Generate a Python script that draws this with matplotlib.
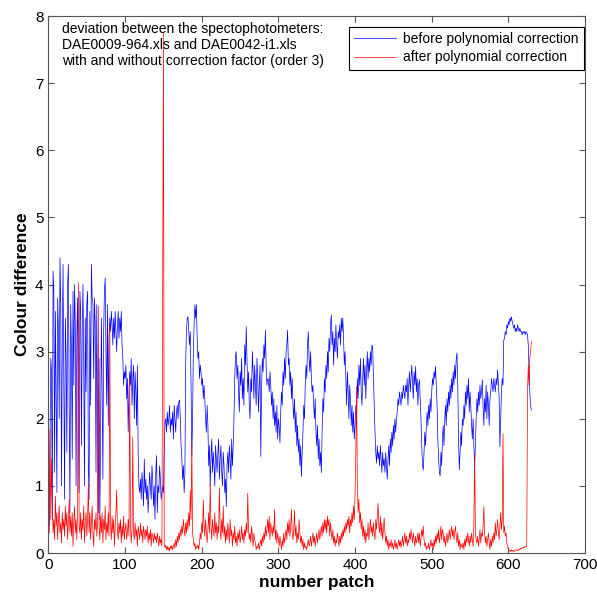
import numpy as np
import matplotlib
matplotlib.use('Agg')
import matplotlib.pyplot as plt

plt.rcParams['font.family'] = ['Liberation Sans', 'DejaVu Sans']

# colour difference per patch
before = [
    0.4, 1.6, 2.9, 2.7, 0.5, 4.2, 3.9, 1.2, 3.6, 2.4,
    0.9, 3.8, 3.3, 2.0, 4.4, 3.7, 1.0, 3.1, 4.3, 2.6,
    0.8, 3.5, 2.9, 1.5, 4.0, 4.3, 2.2, 0.6, 3.7, 3.0,
    1.4, 3.9, 2.5, 4.0, 3.4, 1.0, 3.2, 3.8, 2.0, 0.9,
    3.9, 3.6, 1.6, 3.3, 4.0, 2.8, 1.0, 3.5, 2.4, 3.7,
    3.9, 1.3, 0.8, 3.6, 2.2, 4.3, 3.8, 3.7, 2.6, 3.8,
    3.4, 1.2, 3.7, 2.0, 0.6, 2.9, 0.5, 1.8, 3.5, 2.4,
    1.1, 3.3, 3.9, 4.1, 3.0, 2.2, 3.7, 1.9, 3.2, 3.5,
    3.3, 3.6, 3.4, 3.1, 3.5, 3.2, 3.6, 3.3, 3.0, 3.4,
    3.6, 3.2, 3.5, 3.3, 3.6, 3.1, 2.9, 2.5, 2.7, 2.6,
    2.8, 2.3, 2.6, 1.8, 2.4, 2.7, 2.5, 2.9, 2.2, 2.6,
    2.8, 2.0, 2.7, 2.4, 1.9, 2.8, 1.5, 1.0, 0.9, 1.1,
    0.8, 1.2, 1.0, 0.7, 1.4, 0.9, 1.1, 0.8, 1.0, 0.6,
    0.9, 1.2, 1.0, 0.8, 1.3, 1.1, 0.7, 1.0, 0.5, 1.2,
    1.45, 0.6, 1.0, 0.9, 1.3, 1.1, 0.8, 0.9, 1.0, 0.9,
    1.5, 1.95, 2.0, 1.8, 2.1, 1.9, 2.0, 2.2, 1.8, 2.0,
    1.9, 2.1, 1.7, 2.2, 2.0, 1.8, 2.1, 2.2, 2.0, 2.25,
    2.28, 2.0, 1.6, 1.4, 1.1, 1.3, 0.9, 1.2, 2.8, 3.3,
    3.5, 3.52, 3.3, 3.1, 3.3, 2.5, 1.44, 2.0, 3.0, 3.4,
    3.7, 3.5, 3.7, 3.2, 2.9, 3.0, 2.6, 2.8, 2.7, 2.5,
    2.6, 2.3, 2.5, 2.28, 2.0, 1.8, 2.2, 1.9, 1.3, 1.6,
    1.0, 1.4, 1.7, 1.2, 1.5, 1.3, 1.0, 1.6, 1.4, 1.2,
    1.5, 1.7, 1.1, 1.4, 1.6, 1.2, 1.0, 1.5, 1.3, 0.9,
    1.1, 0.69, 1.3, 1.5, 1.2, 1.6, 1.4, 1.1, 1.7, 1.3,
    1.6, 2.0, 2.6, 2.93, 3.0, 2.6, 2.8, 2.4, 2.1, 2.7,
    2.5, 2.9, 2.3, 2.6, 2.2, 3.1, 2.8, 3.37, 2.9, 2.4,
    2.7, 2.2, 2.0, 2.6, 2.4, 3.0, 2.7, 2.3, 2.8, 2.5,
    2.2, 2.9, 2.6, 2.1, 2.5, 2.8, 1.44, 2.4, 2.9, 2.7,
    3.1, 2.9, 3.32, 2.8, 2.5, 2.6, 2.58, 2.4, 2.7, 2.5,
    2.2, 2.4, 2.0, 2.3, 1.9, 2.1, 1.8, 2.2, 1.7, 2.0,
    1.9, 1.64, 2.1, 2.4, 2.2, 2.7, 2.5, 2.9, 2.6, 3.0,
    3.1, 3.32, 2.8, 2.9, 2.5, 2.7, 2.3, 2.6, 2.2, 2.0,
    2.3, 1.8, 2.1, 1.6, 1.9, 1.5, 1.7, 1.3, 1.6, 1.14,
    1.5, 1.8, 2.2, 2.0, 2.5, 2.8, 2.6, 3.1, 3.3, 2.9,
    2.7, 3.0, 2.6, 2.4, 2.5, 2.2, 2.0, 2.3, 1.8, 1.6,
    1.9, 1.4, 1.7, 1.3, 1.5, 1.2, 1.8, 2.3, 2.1, 2.6,
    2.4, 2.8, 2.6, 3.0, 2.7, 3.2, 3.0, 3.4, 3.55, 3.1,
    3.3, 2.8, 3.2, 3.0, 3.4, 3.1, 2.9, 3.3, 3.2, 3.4,
    3.1, 3.5, 3.3, 3.5, 3.2, 2.8, 3.0, 2.6, 2.2, 2.7,
    2.4, 2.0, 2.5, 2.3, 1.9, 2.2, 1.8, 2.1, 1.7, 1.9,
    2.2, 2.0, 2.6, 2.3, 2.8, 2.5, 2.9, 2.4, 2.2, 2.6,
    2.9, 2.5, 2.8, 2.3, 2.7, 3.0, 2.6, 2.9, 2.7, 3.0,
    2.8, 3.1, 3.07, 2.6, 2.2, 1.8, 1.5, 1.34, 1.6, 1.4,
    1.5, 1.3, 1.6, 1.4, 1.2, 1.5, 1.3, 1.4, 1.2, 1.5,
    1.3, 1.1, 1.4, 1.6, 1.3, 1.7, 1.5, 1.8, 1.6, 1.9,
    1.7, 2.0, 1.8, 2.0, 2.1, 2.3, 2.2, 2.4, 2.3, 2.2,
    2.4, 2.3, 2.5, 2.4, 2.3, 2.5, 2.4, 2.6, 2.2, 2.5,
    2.7, 2.4, 2.6, 2.8, 2.5, 2.3, 2.7, 2.5, 2.78, 2.4,
    2.6, 2.2, 2.5, 2.58, 2.3, 2.0, 1.6, 1.3, 1.24, 1.5,
    1.8, 1.6, 1.9, 2.1, 1.9, 2.2, 2.0, 2.3, 2.1, 2.4,
    2.6, 2.5, 2.7, 2.6, 2.78, 2.5, 2.2, 1.7, 1.4, 1.2,
    1.15, 1.5, 1.3, 1.7, 1.9, 1.6, 2.0, 2.2, 1.9, 2.3,
    2.1, 2.4, 2.2, 2.5, 2.3, 2.6, 2.4, 2.7, 2.5, 2.8,
    2.6, 2.9, 2.98, 2.5, 1.7, 1.24, 1.5, 1.8, 1.6, 2.0,
    1.9, 2.2, 2.0, 2.4, 2.2, 2.5, 2.3, 2.6, 2.1, 2.4,
    2.2, 1.9, 1.7, 2.0, 1.6, 1.29, 1.6, 2.0, 2.3, 2.1,
    2.4, 2.2, 2.5, 2.3, 2.4, 2.58, 2.2, 1.9, 2.3, 2.1,
    2.5, 2.0, 2.4, 2.2, 1.9, 2.3, 2.4, 2.6, 2.5, 2.4,
    2.6, 2.5, 2.4, 2.6, 2.5, 2.73, 2.5, 2.3, 1.58, 2.0,
    2.4, 2.6, 2.5, 3.17, 3.2, 3.3, 3.25, 3.4, 3.35, 3.45,
    3.4, 3.5, 3.45, 3.52, 3.45, 3.4, 3.35, 3.4, 3.3, 3.35,
    3.3, 3.4, 3.35, 3.3, 3.35, 3.3, 3.3, 3.25, 3.3, 3.28,
    3.3, 3.25, 3.3, 3.28, 3.25, 3.1, 2.7, 2.4, 2.2, 2.13,
]

after = [
    0.3, 1.84, 0.5, 1.4, 0.7, 0.3, 0.5, 0.2, 0.85, 0.4,
    0.6, 0.2, 0.5, 0.7, 0.3, 0.45, 0.15, 0.6, 0.35, 0.5,
    0.25, 0.7, 0.4, 0.6, 0.2, 0.5, 0.8, 0.3, 0.55, 0.25,
    0.6, 0.1, 0.45, 0.7, 0.3, 0.5, 0.2, 0.65, 4.03, 0.4,
    0.3, 0.6, 0.2, 0.5, 0.35, 0.7, 0.15, 0.45, 0.6, 0.25,
    0.5, 1.03, 0.3, 0.6, 0.2, 0.45, 0.7, 0.3, 0.1, 0.5,
    0.35, 0.6, 0.25, 0.45, 3.68, 0.4, 0.2, 0.55, 0.3, 0.6,
    0.15, 0.5, 0.35, 0.7, 0.2, 0.45, 0.3, 0.6, 0.25, 3.38,
    0.4, 0.2, 0.55, 0.3, 0.5, 0.1, 0.4, 0.6, 0.94, 0.3,
    0.2, 0.45, 0.3, 0.5, 0.15, 0.4, 0.25, 0.55, 0.2, 0.35,
    0.45, 0.2, 0.3, 0.5, 0.25, 2.6, 0.4, 0.15, 0.35, 1.73,
    0.3, 0.2, 0.45, 0.25, 0.35, 0.1, 0.4, 0.3, 0.2, 0.45,
    0.25, 0.35, 0.15, 0.4, 0.3, 0.2, 0.35, 0.25, 0.4, 0.15,
    0.3, 0.2, 0.35, 0.1, 0.3, 0.25, 0.15, 0.3, 0.2, 0.25,
    0.15, 0.3, 0.2, 0.1, 0.25, 0.15, 0.2, 0.1, 3.93, 7.75,
    0.15, 0.08, 0.12, 0.05, 0.1, 0.04, 0.08, 0.03, 0.1, 0.06,
    0.12, 0.05, 0.09, 0.15, 0.07, 0.2, 0.1, 0.25, 0.15, 0.3,
    0.2, 0.35, 0.25, 0.4, 0.3, 0.5, 0.35, 0.25, 0.45, 0.3,
    0.5, 0.35, 0.6, 0.4, 0.94, 0.5, 1.66, 0.3, 0.2, 0.1,
    0.15, 0.05, 0.1, 0.08, 0.12, 0.05, 0.15, 0.3, 0.2, 0.45,
    0.3, 0.79, 0.4, 0.25, 0.5, 0.3, 0.15, 0.35, 0.6, 0.3,
    1.04, 0.4, 0.2, 0.5, 0.35, 0.25, 0.6, 0.3, 0.45, 0.2,
    0.4, 0.3, 0.97, 0.35, 0.2, 0.5, 0.3, 0.7, 0.25, 0.4,
    0.15, 0.35, 0.2, 0.45, 0.3, 0.15, 0.5, 0.25, 0.35, 0.1,
    0.3, 0.2, 0.4, 0.15, 0.25, 0.1, 0.3, 0.2, 0.35, 0.15,
    0.25, 0.4, 0.2, 0.3, 0.15, 0.35, 0.25, 0.45, 0.3, 0.89,
    0.35, 0.2, 0.3, 0.15, 0.4, 0.25, 0.1, 0.3, 0.2, 0.15,
    0.05, 0.1, 0.08, 0.15, 0.05, 0.12, 0.2, 0.1, 0.25, 0.15,
    0.3, 0.2, 0.4, 0.25, 0.35, 0.5, 0.3, 0.55, 0.2, 0.45,
    0.35, 0.25, 0.4, 0.3, 0.65, 0.2, 0.35, 0.15, 0.3, 0.2,
    0.1, 0.25, 0.15, 0.05, 0.2, 0.1, 0.3, 0.15, 0.25, 0.35,
    0.2, 0.45, 0.3, 0.5, 0.25, 0.4, 0.65, 0.3, 0.2, 0.35,
    0.64, 0.25, 0.4, 0.15, 0.3, 0.2, 0.5, 0.3, 0.15, 0.25,
    0.1, 0.2, 0.05, 0.15, 0.08, 0.1, 0.05, 0.12, 0.2, 0.1,
    0.15, 0.25, 0.1, 0.2, 0.3, 0.15, 0.25, 0.1, 0.2, 0.3,
    0.15, 0.25, 0.35, 0.2, 0.3, 0.4, 0.25, 0.45, 0.3, 0.5,
    0.35, 0.49, 0.3, 0.55, 0.4, 0.5, 0.25, 0.45, 0.3, 0.2,
    0.35, 0.15, 0.25, 0.1, 0.2, 0.15, 0.3, 0.2, 0.1, 0.25,
    0.15, 0.3, 0.2, 0.35, 0.25, 0.4, 0.3, 0.45, 0.35, 0.5,
    0.4, 0.55, 0.3, 0.5, 0.4, 0.6, 0.45, 0.7, 0.5, 0.9,
    1.49, 2.48, 1.0, 0.6, 0.8, 0.45, 0.6, 0.35, 0.5, 0.25,
    0.4, 0.2, 0.35, 0.15, 0.3, 0.25, 0.45, 0.2, 0.35, 0.5,
    0.3, 0.4, 0.25, 0.45, 0.3, 0.2, 0.5, 0.35, 0.55, 0.74,
    0.4, 0.3, 0.55, 0.25, 0.45, 0.2, 0.35, 0.52, 0.3, 0.15,
    0.25, 0.1, 0.2, 0.05, 0.15, 0.1, 0.2, 0.08, 0.15, 0.05,
    0.1, 0.2, 0.08, 0.15, 0.05, 0.12, 0.2, 0.1, 0.18, 0.08,
    0.15, 0.25, 0.1, 0.2, 0.3, 0.15, 0.25, 0.1, 0.2, 0.15,
    0.3, 0.2, 0.35, 0.25, 0.15, 0.3, 0.2, 0.1, 0.25, 0.15,
    0.2, 0.3, 0.15, 0.3, 0.1, 0.2, 0.35, 0.25, 0.4, 0.2,
    0.1, 0.15, 0.05, 0.1, 0.08, 0.15, 0.05, 0.1, 0.2, 0.1,
    0.15, 0.05, 0.2, 0.1, 0.25, 0.15, 0.3, 0.2, 0.35, 0.15,
    0.25, 0.4, 0.2, 0.35, 0.3, 0.15, 0.25, 0.1, 0.2, 0.3,
    0.15, 0.25, 0.35, 0.2, 0.3, 0.4, 0.25, 0.35, 0.2, 0.3,
    0.4, 0.25, 0.15, 0.3, 0.1, 0.2, 0.05, 0.15, 0.1, 0.08,
    0.15, 0.05, 0.2, 0.1, 0.25, 0.15, 0.3, 0.2, 0.1, 0.25,
    0.15, 0.3, 0.2, 0.1, 0.4, 1.49, 0.3, 0.2, 0.15, 0.25,
    0.1, 0.2, 0.35, 0.15, 0.3, 0.25, 0.4, 0.69, 0.3, 0.15,
    0.25, 0.1, 0.2, 0.3, 0.15, 0.05, 0.2, 0.1, 0.25, 0.15,
    0.3, 0.2, 0.45, 0.25, 0.35, 0.5, 0.3, 0.2, 0.4, 0.6,
    0.35, 0.5, 1.78, 0.3, 0.4, 0.25, 0.3, 0.15, 0.1, 0.05,
    0.03, 0.04, 0.02, 0.05, 0.03, 0.04, 0.02, 0.03, 0.05, 0.04,
    0.03, 0.05, 0.04, 0.06, 0.05, 0.07, 0.06, 0.08, 0.07, 0.09,
    0.08, 0.1, 0.09, 0.1, 2.4, 2.8, 2.5, 2.9, 3.0, 3.15,
]

series_labels = ['before polynomial correction', 'after polynomial correction']
note_lines = ['deviation between the spectophotometers:',
              'DAE0009-964.xls and DAE0042-i1.xls',
              'with and without correction factor (order 3)']

patch = np.arange(1, len(before) + 1)

fig = plt.figure(figsize=(5.97, 5.94), dpi=100)
ax = fig.add_axes([0.0812, 0.069, 0.8987, 0.904])

ax.plot(patch, before, color='#0000ff', lw=0.5, label=series_labels[0])
ax.plot(patch, after, color='#ff0000', lw=0.5, label=series_labels[1])

ax.set_xlim(0, 700)
ax.set_ylim(0, 8)
ax.set_xticks(np.arange(0, 701, 100))
ax.set_yticks(np.arange(0, 9, 1))
ax.tick_params(direction='in', top=True, right=True, length=4,
               labelsize=11, color='#555555')
for s in ax.spines.values():
    s.set_color('#555555')
    s.set_linewidth(0.8)

ax.set_xlabel('number patch', fontsize=12.5, fontweight='bold', labelpad=2)
ax.set_ylabel('Colour difference', fontsize=12.5, fontweight='bold', labelpad=4)

ax.text(0.026, 0.988, '\n'.join(note_lines), transform=ax.transAxes,
        ha='left', va='top', fontsize=10, linespacing=1.15)

leg = ax.legend(loc='upper right', bbox_to_anchor=(0.998, 0.98),
                borderaxespad=0, fontsize=10, handlelength=3.0,
                handletextpad=0.5, fancybox=False, framealpha=1,
                edgecolor='black', borderpad=0.4, labelspacing=0.3)
leg.get_frame().set_linewidth(0.8)

fig.savefig('out.png', dpi=100)
